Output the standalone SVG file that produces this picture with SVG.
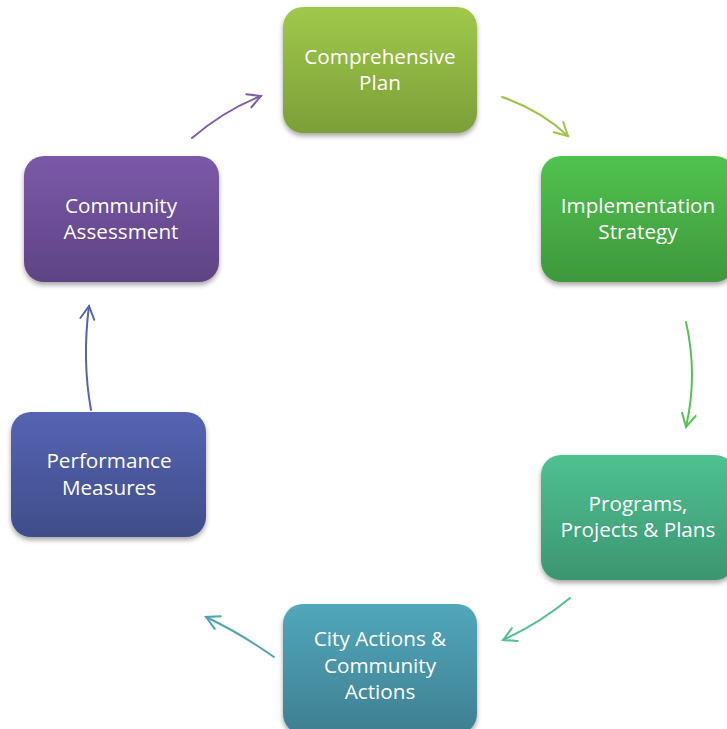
<svg xmlns="http://www.w3.org/2000/svg" width="727" height="729" viewBox="0 0 727 729">
<defs>
<style>
.lbl{font-family:"Open Sans","Liberation Sans",sans-serif;font-size:20.7px;fill:#ffffff;text-anchor:middle}
.conn{fill:none;stroke-width:2;stroke-linecap:round}
</style>
<filter id="sh" x="-10%" y="-10%" width="125%" height="130%">
<feDropShadow dx="0" dy="3" stdDeviation="2.5" flood-color="#000" flood-opacity="0.35"/>
</filter>
<linearGradient id="g1" x1="0" y1="0" x2="0" y2="1"><stop offset="0" stop-color="#a0c84b"/><stop offset="1" stop-color="#7c9f38"/></linearGradient>
<linearGradient id="g2" x1="0" y1="0" x2="0" y2="1"><stop offset="0" stop-color="#51c24f"/><stop offset="1" stop-color="#3e983c"/></linearGradient>
<linearGradient id="g3" x1="0" y1="0" x2="0" y2="1"><stop offset="0" stop-color="#4fc191"/><stop offset="1" stop-color="#3c9570"/></linearGradient>
<linearGradient id="g4" x1="0" y1="0" x2="0" y2="1"><stop offset="0" stop-color="#52a7bb"/><stop offset="1" stop-color="#3e7f91"/></linearGradient>
<linearGradient id="g5" x1="0" y1="0" x2="0" y2="1"><stop offset="0" stop-color="#5564b2"/><stop offset="1" stop-color="#404d8a"/></linearGradient>
<linearGradient id="g6" x1="0" y1="0" x2="0" y2="1"><stop offset="0" stop-color="#7b59a9"/><stop offset="1" stop-color="#5e4384"/></linearGradient>
<marker id="a1" markerUnits="userSpaceOnUse" markerWidth="30" markerHeight="30" viewBox="-15 -15 30 30" refX="0" refY="0" orient="auto"><path d="M-13,-7 L0,0 L-13,7" fill="none" stroke="#9dc34b" stroke-width="2" stroke-linecap="round"/></marker>
<marker id="a2" markerUnits="userSpaceOnUse" markerWidth="30" markerHeight="30" viewBox="-15 -15 30 30" refX="0" refY="0" orient="auto"><path d="M-13,-7 L0,0 L-13,7" fill="none" stroke="#58bf57" stroke-width="2" stroke-linecap="round"/></marker>
<marker id="a3" markerUnits="userSpaceOnUse" markerWidth="30" markerHeight="30" viewBox="-15 -15 30 30" refX="0" refY="0" orient="auto"><path d="M-13,-7 L0,0 L-13,7" fill="none" stroke="#55bf94" stroke-width="2" stroke-linecap="round"/></marker>
<marker id="a4" markerUnits="userSpaceOnUse" markerWidth="30" markerHeight="30" viewBox="-15 -15 30 30" refX="0" refY="0" orient="auto"><path d="M-13,-7 L0,0 L-13,7" fill="none" stroke="#4fa3b5" stroke-width="2" stroke-linecap="round"/></marker>
<marker id="a5" markerUnits="userSpaceOnUse" markerWidth="30" markerHeight="30" viewBox="-15 -15 30 30" refX="0" refY="0" orient="auto"><path d="M-13,-7 L0,0 L-13,7" fill="none" stroke="#5664b0" stroke-width="2" stroke-linecap="round"/></marker>
<marker id="a6" markerUnits="userSpaceOnUse" markerWidth="30" markerHeight="30" viewBox="-15 -15 30 30" refX="0" refY="0" orient="auto"><path d="M-13,-7 L0,0 L-13,7" fill="none" stroke="#7e5fa9" stroke-width="2" stroke-linecap="round"/></marker>
</defs>
<rect width="727" height="729" fill="#ffffff"/>
<g id="connectors">
<path class="conn" d="M502,97 Q540,110 568,136" stroke="#9dc34b" marker-end="url(#a1)"/>
<path class="conn" d="M686,322 Q698,375 686,427" stroke="#58bf57" marker-end="url(#a2)"/>
<path class="conn" d="M570,598 Q540,623 503,640" stroke="#55bf94" marker-end="url(#a3)"/>
<path class="conn" d="M274,657 Q240,633 206,617" stroke="#4fa3b5" marker-end="url(#a4)"/>
<path class="conn" d="M91,410 Q82,360 89,306" stroke="#5664b0" marker-end="url(#a5)"/>
<path class="conn" d="M192,138 Q225,110 261,96" stroke="#7e5fa9" marker-end="url(#a6)"/>
</g>
<g id="node-comprehensive-plan">
<rect x="283" y="7" width="194" height="126" rx="20" fill="url(#g1)" filter="url(#sh)"/>
<text class="lbl" x="380" y="64">Comprehensive</text>
<text class="lbl" x="380" y="90">Plan</text>
</g>
<g id="node-implementation-strategy">
<rect x="541" y="156" width="194" height="126" rx="20" fill="url(#g2)" filter="url(#sh)"/>
<text class="lbl" x="638" y="213">Implementation</text>
<text class="lbl" x="638" y="239">Strategy</text>
</g>
<g id="node-programs">
<rect x="541" y="455" width="194" height="125" rx="20" fill="url(#g3)" filter="url(#sh)"/>
<text class="lbl" x="638" y="511">Programs,</text>
<text class="lbl" x="638" y="537">Projects &amp; Plans</text>
</g>
<g id="node-city-actions">
<rect x="283" y="604" width="194" height="130" rx="20" fill="url(#g4)" filter="url(#sh)"/>
<text class="lbl" x="380" y="646">City Actions &amp;</text>
<text class="lbl" x="380" y="673">Community</text>
<text class="lbl" x="380" y="699">Actions</text>
</g>
<g id="node-performance-measures">
<rect x="11" y="412" width="195" height="125" rx="20" fill="url(#g5)" filter="url(#sh)"/>
<text class="lbl" x="109" y="468">Performance</text>
<text class="lbl" x="109" y="495">Measures</text>
</g>
<g id="node-community-assessment">
<rect x="24" y="156" width="195" height="126" rx="20" fill="url(#g6)" filter="url(#sh)"/>
<text class="lbl" x="121" y="213">Community</text>
<text class="lbl" x="121" y="239">Assessment</text>
</g>
</svg>
